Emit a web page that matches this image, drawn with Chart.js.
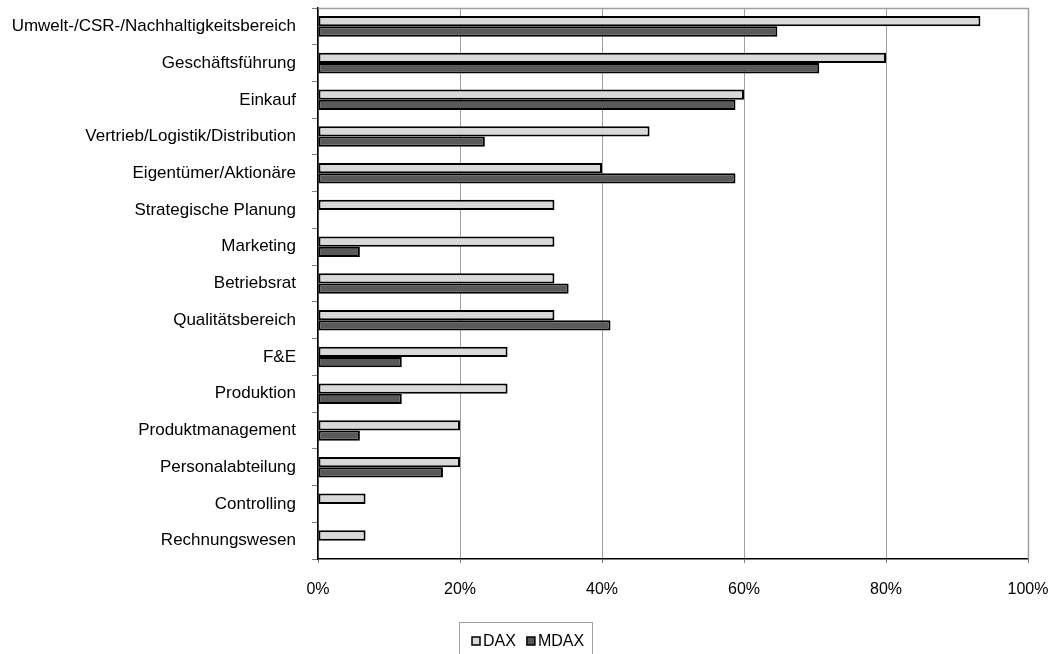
<!DOCTYPE html>
<html>
<head>
<meta charset="utf-8">
<script src="https://cdn.jsdelivr.net/npm/chart.js@4.4.1/dist/chart.umd.min.js"></script>
<style>
  html, body { margin: 0; padding: 0; background: #ffffff; }
  #wrap { width: 1061px; height: 654px; }
</style>
</head>
<body>
<div id="wrap"><canvas id="chart" width="1061" height="654"></canvas></div>
<script>
const categories = [
  "Umwelt-/CSR-/Nachhaltigkeitsbereich",
  "Geschäftsführung",
  "Einkauf",
  "Vertrieb/Logistik/Distribution",
  "Eigentümer/Aktionäre",
  "Strategische Planung",
  "Marketing",
  "Betriebsrat",
  "Qualitätsbereich",
  "F&E",
  "Produktion",
  "Produktmanagement",
  "Personalabteilung",
  "Controlling",
  "Rechnungswesen"
];
const daxValues  = [93.3, 80.0, 60.0, 46.7, 40.0, 33.3, 33.3, 33.3, 33.3, 26.7, 26.7, 20.0, 20.0, 6.7, 6.7];
const mdaxValues = [64.7, 70.6, 58.8, 23.5, 58.8, 0, 5.9, 35.3, 41.2, 11.8, 11.8, 5.9, 17.6, 0, 0];
const xTicks = [0, 20, 40, 60, 80, 100];
const seriesNames = ["DAX", "MDAX"];
const seriesColors = ["#d9d9d9", "#595959"];

const FONT = "'Liberation Sans', Arial, sans-serif";
Chart.defaults.font.family = FONT;
Chart.defaults.font.size = 16;
Chart.defaults.color = "#000000";

// gray frame on the top and right of the plot area
const frame = {
  id: "frame",
  beforeDatasetsDraw(chart) {
    const { ctx, chartArea: a } = chart;
    ctx.save();
    ctx.strokeStyle = "#a0a0a0";
    ctx.lineWidth = 1.5;
    ctx.beginPath();
    ctx.moveTo(a.left, a.top + 0.5);
    ctx.lineTo(a.right + 0.5, a.top + 0.5);
    ctx.lineTo(a.right + 0.5, a.bottom);
    ctx.stroke();
    ctx.restore();
  }
};

// boxed legend below the axis
const boxLegend = {
  id: "boxLegend",
  afterDraw(chart) {
    const { ctx } = chart;
    ctx.save();
    ctx.strokeStyle = "#a0a0a0";
    ctx.lineWidth = 1;
    ctx.strokeRect(459.5, 622.5, 133, 40);
    ctx.font = "16px " + FONT;
    ctx.textBaseline = "middle";
    let x = 472;
    const y = 641;
    chart.data.datasets.forEach((ds) => {
      ctx.fillStyle = ds.backgroundColor;
      ctx.fillRect(x, y - 4, 8, 8);
      ctx.strokeStyle = "#000000";
      ctx.lineWidth = 1.5;
      ctx.strokeRect(x, y - 4, 8, 8);
      ctx.fillStyle = "#000000";
      ctx.fillText(ds.label, x + 11, y + 1);
      x += 11 + ctx.measureText(ds.label).width + 11;
    });
    ctx.restore();
  }
};

new Chart(document.getElementById("chart"), {
  type: "bar",
  data: {
    labels: categories,
    datasets: [
      { label: seriesNames[0], data: daxValues, backgroundColor: seriesColors[0] },
      { label: seriesNames[1], data: mdaxValues, backgroundColor: seriesColors[1] }
    ]
  },
  options: {
    indexAxis: "y",
    responsive: false,
    animation: false,
    devicePixelRatio: 1,
    layout: { padding: { left: 0, right: 33, top: 8, bottom: 55 } },
    datasets: {
      bar: {
        categoryPercentage: 0.56,
        barPercentage: 1.0,
        borderColor: "#000000",
        borderWidth: (c) => (c.raw === 0 ? 0 : 2),
        borderSkipped: false
      }
    },
    plugins: {
      legend: { display: false },
      tooltip: { enabled: false }
    },
    scales: {
      x: {
        min: 0,
        max: 100,
        afterBuildTicks(scale) { scale.ticks = xTicks.map(v => ({ value: v })); },
        afterFit(scale) {
          scale.height = 40;
          scale.paddingLeft = 0;
          scale.paddingRight = 0;
        },
        ticks: {
          padding: 17,
          maxRotation: 0,
          font: { size: 16 },
          callback: (v) => v + "%"
        },
        grid: {
          color: "#a0a0a0",
          lineWidth: 1,
          tickLength: 4,
          tickColor: "#808080"
        },
        border: { color: "#000000", width: 1.5 }
      },
      y: {
        afterFit(scale) {
          scale.width = 318;
          scale.paddingTop = 0;
          scale.paddingBottom = 0;
        },
        ticks: { padding: 16, font: { size: 17 } },
        grid: {
          drawOnChartArea: false,
          drawTicks: true,
          tickLength: 6,
          tickColor: "#808080",
          offset: true
        },
        border: { color: "#000000", width: 1.5 }
      }
    }
  },
  plugins: [frame, boxLegend]
});
</script>
</body>
</html>
